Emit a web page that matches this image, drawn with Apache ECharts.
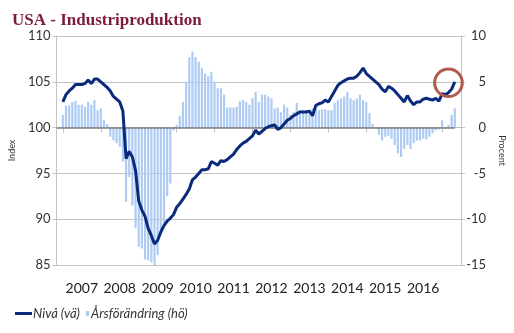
<!DOCTYPE html>
<html>
<head>
<meta charset="utf-8">
<script src="https://cdn.jsdelivr.net/npm/echarts@6/dist/echarts.min.js"></script>
<style>html,body{margin:0;padding:0;background:#fff}#c{width:514px;height:333px}</style>
</head>
<body>
<div id="c"></div>
<script>
// Monthly data, Jan 2007 .. May 2017
var level = [
102.8,103.6,104.0,104.3,104.7,104.7,104.7,104.8,105.2,104.8,105.3,105.3,
105.0,104.7,104.4,104.0,103.4,103.1,102.8,101.8,96.6,97.4,96.8,95.3,
92.0,91.0,90.3,89.0,88.2,87.3,87.7,88.6,89.3,89.8,90.1,90.5,
91.3,91.7,92.2,92.7,93.3,94.3,94.6,95.0,95.4,95.4,95.5,96.3,
96.1,95.9,96.4,96.3,96.5,96.8,97.1,97.6,98.0,98.3,98.5,98.8,
99.1,99.7,99.3,99.6,99.9,100.1,100.2,100.3,99.8,100.0,100.4,100.8,
101.0,101.3,101.5,101.7,101.7,101.7,101.8,101.3,102.4,102.6,102.7,103.0,
102.8,103.4,104.0,104.6,104.9,105.1,105.3,105.4,105.4,105.6,106.0,106.5,
105.9,105.6,105.3,105.0,104.7,104.2,103.9,104.5,104.3,104.0,103.6,103.2,
102.8,103.5,102.9,102.5,102.8,102.8,103.1,103.2,103.1,103.0,103.2,102.9,
103.7,103.6,103.8,104.2,105.0
];
var yoy = [
1.4,2.4,2.4,2.8,2.9,2.5,2.5,2.3,2.8,2.5,3.0,1.9,
2.1,0.8,0.4,-1.0,-1.4,-1.7,-2.1,-3.7,-8.1,-5.4,-8.5,-11.0,
-13.0,-13.2,-14.4,-14.5,-14.7,-15.0,-13.9,-11.5,-10.8,-7.5,-6.1,-0.3,
0.3,1.3,2.8,5.0,7.7,8.3,7.7,7.2,6.5,5.9,5.6,6.1,
5.0,4.3,4.3,3.6,2.2,2.2,2.2,2.3,2.9,3.0,2.8,2.5,
3.2,3.9,2.8,3.6,3.6,3.4,3.2,2.1,2.2,1.7,2.5,2.2,
1.4,1.7,2.7,1.9,1.9,1.9,1.6,2.1,2.3,1.9,2.0,2.0,
1.9,1.9,2.7,3.0,3.2,3.4,3.9,3.2,3.0,3.2,3.6,3.0,
2.8,1.6,0.4,-0.1,-0.8,-1.4,-1.0,-0.9,-1.2,-1.9,-2.8,-3.2,
-2.3,-1.9,-2.3,-1.7,-1.4,-1.4,-1.2,-1.3,-1.0,-0.6,-0.3,-0.2,
0.8,0.05,0.3,1.4,2.1
];
var yearLabels = ['2007','2008','2009','2010','2011','2012','2013','2014','2015','2016'];
var leftTicks = [85, 110, 5];
var rightTicks = [-15, 10, 5];
var names = ['Nivå (vä)', 'Årsförändring (hö)'];
var titleText = 'USA - Industriproduktion';

// category axis: Nov 2006 .. Jul 2017 (two empty months padding each side)
var months = [];
for (var y = 2006; y <= 2017; y++) {
  for (var m = 1; m <= 12; m++) {
    if (y === 2006 && m < 11) continue;
    if (y === 2017 && m > 7) continue;
    months.push(y + '-' + (m < 10 ? '0' + m : m));
  }
}
var pad = [null, null];
var levelData = pad.concat(level, pad);
var yoyData = pad.concat(yoy, pad);
var lastCat = months[2 + level.length - 1];

function isJan(i) { return months[i].slice(5) === '01'; }
function isYearLabel(i) {
  var yr = months[i].slice(0, 4);
  return months[i].slice(5) === '07' && yearLabels.indexOf(yr) >= 0;
}

var gridCol = '#C4C4C4';
var labelFont = 'Lato';
var chart = echarts.init(document.getElementById('c'), null, {renderer: 'canvas'});
chart.setOption({
  animation: false,
  title: {
    text: titleText, left: 7, top: 7,
    textStyle: {fontFamily: 'Liberation Serif', fontWeight: 'bold', fontSize: 17, color: '#7B1C3C'}
  },
  legend: [{
    data: [{name: names[0], icon: 'rect'}],
    left: 10, top: 302, itemWidth: 17, itemHeight: 3, itemGap: 0,
    textStyle: {fontFamily: labelFont, fontStyle: 'italic', fontSize: 13, color: '#333', padding: [0, 0, 0, -4]}
  }, {
    data: [{name: names[1], icon: 'rect'}],
    left: 81, top: 302, itemWidth: 3, itemHeight: 5, itemGap: 0,
    textStyle: {fontFamily: labelFont, fontStyle: 'italic', fontSize: 13, color: '#333', padding: [0, 0, 0, -3]}
  }],
  grid: {left: 48, right: 47, top: 36, bottom: 68},
  xAxis: {
    type: 'category', data: months, boundaryGap: false,
    axisLine: {lineStyle: {color: gridCol}},
    axisTick: {interval: function (i) { return isJan(i); }, length: 5, lineStyle: {color: gridCol}},
    axisLabel: {
      interval: function (i) { return isYearLabel(i); },
      formatter: function (v) { return v.slice(0, 4); },
      fontFamily: labelFont, fontSize: 14, color: '#222', margin: 16
    },
    splitLine: {show: false}
  },
  yAxis: [{
    type: 'value', min: leftTicks[0], max: leftTicks[1], interval: leftTicks[2],
    name: 'Index', nameLocation: 'middle', nameGap: 33,
    nameTextStyle: {fontFamily: labelFont, fontSize: 9, color: '#333'},
    axisLine: {show: true, lineStyle: {color: gridCol}},
    axisTick: {show: true, length: 4, lineStyle: {color: gridCol}},
    axisLabel: {fontFamily: labelFont, fontSize: 13, color: '#333', margin: 6},
    splitLine: {lineStyle: {color: gridCol}}
  }, {
    type: 'value', min: rightTicks[0], max: rightTicks[1], interval: rightTicks[2],
    position: 'right',
    name: 'Procent', nameLocation: 'middle', nameGap: 30, nameRotate: -90,
    nameTextStyle: {fontFamily: labelFont, fontSize: 9, color: '#333'},
    axisLine: {show: true, lineStyle: {color: gridCol}},
    axisTick: {show: true, length: 4, lineStyle: {color: gridCol}},
    axisLabel: {fontFamily: labelFont, fontSize: 13, color: '#333', margin: 25, align: 'right'},
    splitLine: {show: false}
  }],
  series: [{
    name: names[1], type: 'bar', yAxisIndex: 1, data: yoyData,
    barWidth: 2.2, itemStyle: {color: '#AECBF4'},
    markLine: {
      silent: true, symbol: 'none', label: {show: false},
      lineStyle: {color: '#7F7F7F', width: 1.5, type: 'solid'},
      data: [[{coord: [months[0], 0]}, {coord: [lastCat, 0]}]]
    }
  }, {
    name: names[0], type: 'line', yAxisIndex: 0, data: levelData,
    showSymbol: false, symbol: 'none', connectNulls: false, z: 5,
    lineStyle: {color: '#0B2A7C', width: 3}, itemStyle: {color: '#0B2A7C'}
  }]
});
var c = chart.convertToPixel({xAxisIndex: 0, yAxisIndex: 0}, [months[2 + level.length - 3], 104.9]);
chart.setOption({
  graphic: [{
    type: 'circle', shape: {cx: c[0], cy: c[1], r: 13.8}, z: 10, silent: true,
    style: {fill: 'none', stroke: '#B35A4E', lineWidth: 3}
  }]
});
</script>
</body>
</html>
